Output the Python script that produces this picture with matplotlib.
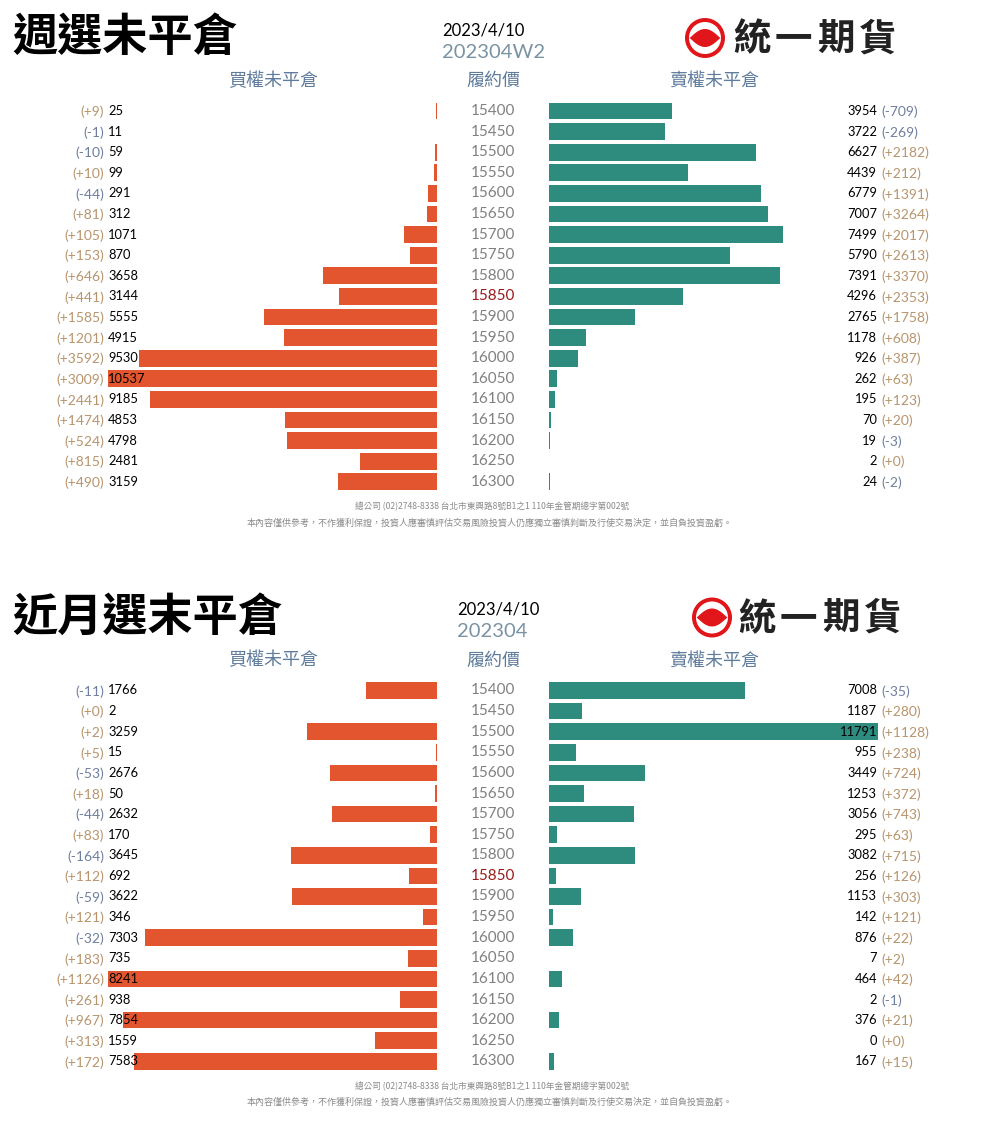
import matplotlib
matplotlib.use("Agg")
import matplotlib.pyplot as plt
from matplotlib.patches import Circle, Polygon
import numpy as np

W, H = 987, 1129
CJK = ["Noto Sans CJK TC", "DejaVu Sans"]
NUM = ["Lato", "DejaVu Sans"]

CALL_COLOR = "#E2552E"
PUT_COLOR = "#2D8C7E"
UP_COLOR = "#B8946C"
DOWN_COLOR = "#6F7F9E"
HEAD_COLOR = "#5F7C9C"

strikes = [15400, 15450, 15500, 15550, 15600, 15650, 15700, 15750, 15800, 15850,
           15900, 15950, 16000, 16050, 16100, 16150, 16200, 16250, 16300]
atm_strike = 15850

# 週選 202304W2
week_call_oi = [25, 11, 59, 99, 291, 312, 1071, 870, 3658, 3144, 5555, 4915, 9530, 10537, 9185, 4853, 4798, 2481, 3159]
week_call_chg = [9, -1, -10, 10, -44, 81, 105, 153, 646, 441, 1585, 1201, 3592, 3009, 2441, 1474, 524, 815, 490]
week_put_oi = [3954, 3722, 6627, 4439, 6779, 7007, 7499, 5790, 7391, 4296, 2765, 1178, 926, 262, 195, 70, 19, 2, 24]
week_put_chg = [-709, -269, 2182, 212, 1391, 3264, 2017, 2613, 3370, 2353, 1758, 608, 387, 63, 123, 20, -3, 0, -2]

# 近月 202304
month_call_oi = [1766, 2, 3259, 15, 2676, 50, 2632, 170, 3645, 692, 3622, 346, 7303, 735, 8241, 938, 7854, 1559, 7583]
month_call_chg = [-11, 0, 2, 5, -53, 18, -44, 83, -164, 112, -59, 121, -32, 183, 1126, 261, 967, 313, 172]
month_put_oi = [7008, 1187, 11791, 955, 3449, 1253, 3056, 295, 3082, 256, 1153, 142, 876, 7, 464, 2, 376, 0, 167]
month_put_chg = [-35, 280, 1128, 238, 724, 372, 743, 63, 715, 126, 303, 121, 22, 2, 42, -1, 21, 0, 15]

FOOT1 = "總公司 (02)2748-8338 台北市東興路8號B1之1 110年金管期總字第002號"
FOOT2 = "本內容僅供參考，不作獲利保證，投資人應審慎評估交易風險投資人仍應獨立審慎判斷及行使交易決定，並自負投資盈虧。"

fig = plt.figure(figsize=(W / 100, H / 100), dpi=100)
fig.patch.set_facecolor("white")

# overlay in pixel coordinates for texts and logo
ov = fig.add_axes([0, 0, 1, 1], zorder=5)
ov.set_xlim(0, W)
ov.set_ylim(H, 0)
ov.axis("off")
ov.patch.set_visible(False)

ROW0 = 111
STEP = 20.6
BAR_X0, BAR_X1 = 108, 437
PUT_X0, PUT_X1 = 549, 878


def px_axes(x0, x1, y_top, y_bot):
    return fig.add_axes([x0 / W, 1 - y_bot / H, (x1 - x0) / W, (y_bot - y_top) / H])


def draw_logo(cx, cy, tx):
    ov.add_patch(Circle((cx, cy), 20, color="#E0161B", lw=0))
    ov.add_patch(Circle((cx, cy), 16, color="white", lw=0))
    t = np.linspace(-1, 1, 40)
    xs = cx + 15.5 * t
    upper = cy - 9 * (1 - t ** 2) ** 1.2
    lower = cy + 9 * (1 - t ** 2) ** 1.2
    pts = np.column_stack([np.concatenate([xs, xs[::-1]]), np.concatenate([upper, lower[::-1]])])
    ov.add_patch(Polygon(pts, closed=True, color="#E0161B", lw=0))
    for i, ch in enumerate("統一期貨"):
        ov.text(tx + i * 42, cy + 1, ch, fontsize=27, fontweight="bold", family=CJK,
                color="#222222", ha="left", va="center")


def fmt_chg(v):
    return "(+{})".format(v) if v >= 0 else "({})".format(v)


def draw_panel(dy, title, code, code_x, call_oi, call_chg, put_oi, put_chg, call_lim, put_lim):
    ov.text(12, 38 + dy, title, fontsize=32.5, fontweight="bold", family=CJK, color="black",
            ha="left", va="center")
    ov.text(code_x, 30 + dy, "2023/4/10", fontsize=12, family=NUM, color="black", ha="left", va="center")
    ov.text(code_x, 52 + dy, code, fontsize=14.5, family=NUM, color="#7A93A3", ha="left", va="center")
    draw_logo(705 + (7 if dy else 0), 38 + dy, 733 + (5 if dy else 0))

    head_y = 81 + dy
    ov.text(273, head_y, "買權未平倉", fontsize=13, family=CJK, color=HEAD_COLOR, ha="center", va="center")
    ov.text(493, head_y, "履約價", fontsize=13, family=CJK, color=HEAD_COLOR, ha="center", va="center")
    ov.text(714, head_y, "賣權未平倉", fontsize=13, family=CJK, color=HEAD_COLOR, ha="center", va="center")

    y_top = ROW0 + dy - STEP / 2
    y_bot = ROW0 + dy + STEP * (len(strikes) - 0.5)
    idx = np.arange(len(strikes))

    ax_c = px_axes(BAR_X0, BAR_X1, y_top, y_bot)
    ax_c.barh(idx, call_oi, height=0.81, color=CALL_COLOR, lw=0)
    ax_c.set_xlim(call_lim, 0)
    ax_c.set_ylim(len(strikes) - 0.5, -0.5)
    ax_c.axis("off")

    ax_p = px_axes(PUT_X0, PUT_X1, y_top, y_bot)
    ax_p.barh(idx, put_oi, height=0.81, color=PUT_COLOR, lw=0)
    ax_p.set_xlim(0, put_lim)
    ax_p.set_ylim(len(strikes) - 0.5, -0.5)
    ax_p.axis("off")

    for i, k in enumerate(strikes):
        y = ROW0 + dy + i * STEP
        ov.text(493, y, str(k), fontsize=11, family=NUM, ha="center", va="center",
                color="#9B1B1B" if k == atm_strike else "#808080")
        ov.text(108, y, str(call_oi[i]), fontsize=9.3, family=NUM, color="black", ha="left", va="center")
        ov.text(104, y + 1, fmt_chg(call_chg[i]), fontsize=10, family=NUM, ha="right", va="center",
                color=UP_COLOR if call_chg[i] >= 0 else DOWN_COLOR)
        ov.text(877, y, str(put_oi[i]), fontsize=9.3, family=NUM, color="black", ha="right", va="center")
        ov.text(881, y + 1, fmt_chg(put_chg[i]), fontsize=10, family=NUM, ha="left", va="center",
                color=UP_COLOR if put_chg[i] >= 0 else DOWN_COLOR)

    ov.text(492, 507 + dy, FOOT1, fontsize=6.2, family=CJK, color="#8A8A8A", ha="center", va="center")
    ov.text(490, 523 + dy, FOOT2, fontsize=6.5, family=CJK, color="#8A8A8A", ha="center", va="center")


draw_panel(0, "週選未平倉", "202304W2", 442,
           week_call_oi, week_call_chg, week_put_oi, week_put_chg,
           max(week_call_oi), max(week_call_oi))
draw_panel(579.5, "近月選末平倉", "202304", 457,
           month_call_oi, month_call_chg, month_put_oi, month_put_chg,
           max(month_call_oi), max(month_put_oi))

fig.savefig("out.png", dpi=100, facecolor="white")
